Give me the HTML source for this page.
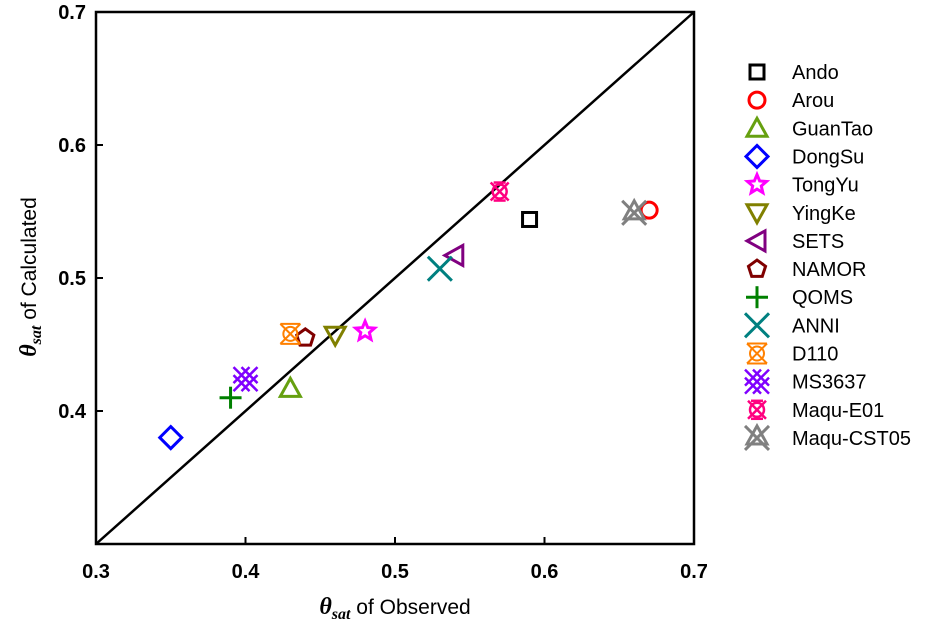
<!DOCTYPE html>
<html><head><meta charset="utf-8"><style>
body{margin:0;background:#fff}
svg{display:block;font-family:"Liberation Sans",Arial,sans-serif}
</style></head><body>
<svg id="c" width="939" height="628" viewBox="0 0 939 628" xmlns="http://www.w3.org/2000/svg"></svg>
<script>
const names=["Ando","Arou","GuanTao","DongSu","TongYu","YingKe","SETS","NAMOR","QOMS","ANNI","D110","MS3637","Maqu-E01","Maqu-CST05"];
const observed=[0.59,0.67,0.43,0.35,0.48,0.46,0.54,0.44,0.39,0.53,0.43,0.40,0.57,0.66];
const calculated=[0.544,0.551,0.417,0.380,0.460,0.457,0.517,0.455,0.410,0.507,0.458,0.424,0.565,0.549];
const colors=["#000000","#ff0000","#66a010","#0000ff","#ff00ff","#808000","#800080","#800000","#008000","#008080","#ff8000","#8000ff","#ff0080","#808080"];
const shapes=["square","circle","up","diamond","star","down","left","pent","plus","x","d110","ms","maqu","cst"];
const xTicks=[0.3,0.4,0.5,0.6,0.7];
const yTicks=[0.4,0.5,0.6,0.7];
const L=96,R=694,T=12,B=544;
const sx=v=>L+(v-0.3)/0.4*(R-L);
const sy=v=>B-(v-0.3)/0.4*(B-T);
const svg=document.getElementById('c');
const NS="http://www.w3.org/2000/svg";
function mk(tag,attrs,parent){const e=document.createElementNS(NS,tag);for(const k in attrs)e.setAttribute(k,attrs[k]);(parent||svg).appendChild(e);return e;}
const ln=mk('line',{x1:sx(0.3),y1:sy(0.3),x2:sx(0.7),y2:sy(0.7),stroke:'#000','stroke-width':2.5});


const fr=mk('rect',{x:L,y:T,width:R-L,height:B-T,fill:'none',stroke:'#000','stroke-width':2.5});


xTicks.forEach(v=>{
  mk('line',{x1:sx(v),y1:B,x2:sx(v),y2:B-7,stroke:'#000','stroke-width':2});
  const t=mk('text',{x:sx(v),y:B+34,'text-anchor':'middle','font-size':20,'font-weight':'bold'});
  t.textContent=v.toFixed(1);
  
  
});
yTicks.forEach(v=>{
  mk('line',{x1:L,y1:sy(v),x2:L+7,y2:sy(v),stroke:'#000','stroke-width':2});
  const t=mk('text',{x:L-10,y:sy(v)+7,'text-anchor':'end','font-size':20,'font-weight':'bold'});
  t.textContent=v.toFixed(1);
  
  
});
function marker(shape,x,y,c,g){
  const s={fill:'none',stroke:c,'stroke-width':3};
  const poly=(pts)=>mk('polygon',Object.assign({points:pts.map(p=>p.join(',')).join(' ')},s),g);
  const line=(a,b,cc,d)=>mk('line',Object.assign({x1:a,y1:b,x2:cc,y2:d},s),g);
  switch(shape){
    case 'square':mk('rect',Object.assign({x:x-7,y:y-7,width:14,height:14},s),g);break;
    case 'circle':mk('circle',Object.assign({cx:x,cy:y,r:8},s),g);break;
    case 'up':poly([[x,y-10],[x+10,y+8],[x-10,y+8]]);break;
    case 'down':poly([[x,y+10],[x+10,y-8],[x-10,y-8]]);break;
    case 'left':poly([[x-10,y],[x+8,y-10],[x+8,y+10]]);break;
    case 'diamond':poly([[x,y-11],[x+11,y],[x,y+11],[x-11,y]]);break;
    case 'pent':{const p=[];for(let i=0;i<5;i++){const a=-Math.PI/2+i*2*Math.PI/5;p.push([x+9*Math.cos(a),y+9*Math.sin(a)]);}poly(p);break;}
    case 'star':{const p=[];for(let i=0;i<10;i++){const a=-Math.PI/2+i*Math.PI/5;const rr=i%2?4.5:10;p.push([x+rr*Math.cos(a),y+rr*Math.sin(a)]);}poly(p);break;}
    case 'plus':line(x-11,y,x+11,y);line(x,y-11,x,y+11);break;
    case 'x':line(x-12,y-12,x+12,y+12);line(x-12,y+12,x+12,y-12);break;
    case 'd110':{const s2={fill:'none',stroke:c,'stroke-width':2};
      [[x-10,y-10,x+10,y+10],[x-10,y+10,x+10,y-10],[x-10,y-10,x+10,y-10],[x-10,y+10,x+10,y+10]].forEach(a=>mk('line',Object.assign({x1:a[0],y1:a[1],x2:a[2],y2:a[3]},s2),g));
      mk('circle',Object.assign({cx:x,cy:y,r:7},s2),g);break;}
    case 'ms':{const s2={stroke:c,'stroke-width':2.5};
      [[x-12,y-12,x+12,y+12],[x-12,y+12,x+12,y-12],[x-4,y-12,x+12,y+4],[x-12,y-4,x+4,y+12],[x+4,y-12,x-12,y+4],[x+12,y-4,x-4,y+12]].forEach(a=>mk('line',Object.assign({x1:a[0],y1:a[1],x2:a[2],y2:a[3]},s2),g));break;}
    case 'maqu':{const s2={fill:'none',stroke:c,'stroke-width':2.5};
      [[x-9,y-9,x+9,y+9],[x-9,y+9,x+9,y-9],[x-6,y-9,x+6,y-9],[x-6,y+9,x+6,y+9]].forEach(a=>mk('line',Object.assign({x1:a[0],y1:a[1],x2:a[2],y2:a[3]},s2),g));
      mk('circle',Object.assign({cx:x,cy:y,r:7},s2),g);break;}
    case 'cst':line(x-12,y-12,x+12,y+12);line(x-12,y+12,x+12,y-12);poly([[x,y-12],[x+10,y+6],[x-10,y+6]]);break;
  }
}
names.forEach((n,i)=>{
  const g=mk('g',{});
  
  
  marker(shapes[i],sx(observed[i]),sy(calculated[i]),colors[i],g);
});
names.forEach((n,i)=>{
  const g=mk('g',{});
  
  
  const y=72+i*28.15;
  marker(shapes[i],757,y,colors[i],g);
  const t=mk('text',{x:792,y:y+7,'font-size':20},g);
  t.textContent=n;
});
const xt=mk('text',{x:395,y:614,'text-anchor':'middle','font-size':21});


xt.innerHTML='<tspan font-family="Liberation Serif" font-style="italic" font-weight="bold" font-size="24">θ</tspan><tspan font-family="Liberation Serif" font-style="italic" font-weight="bold" font-size="16" dy="5">sat</tspan><tspan dy="-5"> of Observed</tspan>';
const yt=mk('text',{x:0,y:0,'text-anchor':'middle','font-size':21,transform:'translate(36,277) rotate(-90)'});


yt.innerHTML='<tspan font-family="Liberation Serif" font-style="italic" font-weight="bold" font-size="24">θ</tspan><tspan font-family="Liberation Serif" font-style="italic" font-weight="bold" font-size="16" dy="5">sat</tspan><tspan dy="-5"> of Calculated</tspan>';
</script>
</body></html>
